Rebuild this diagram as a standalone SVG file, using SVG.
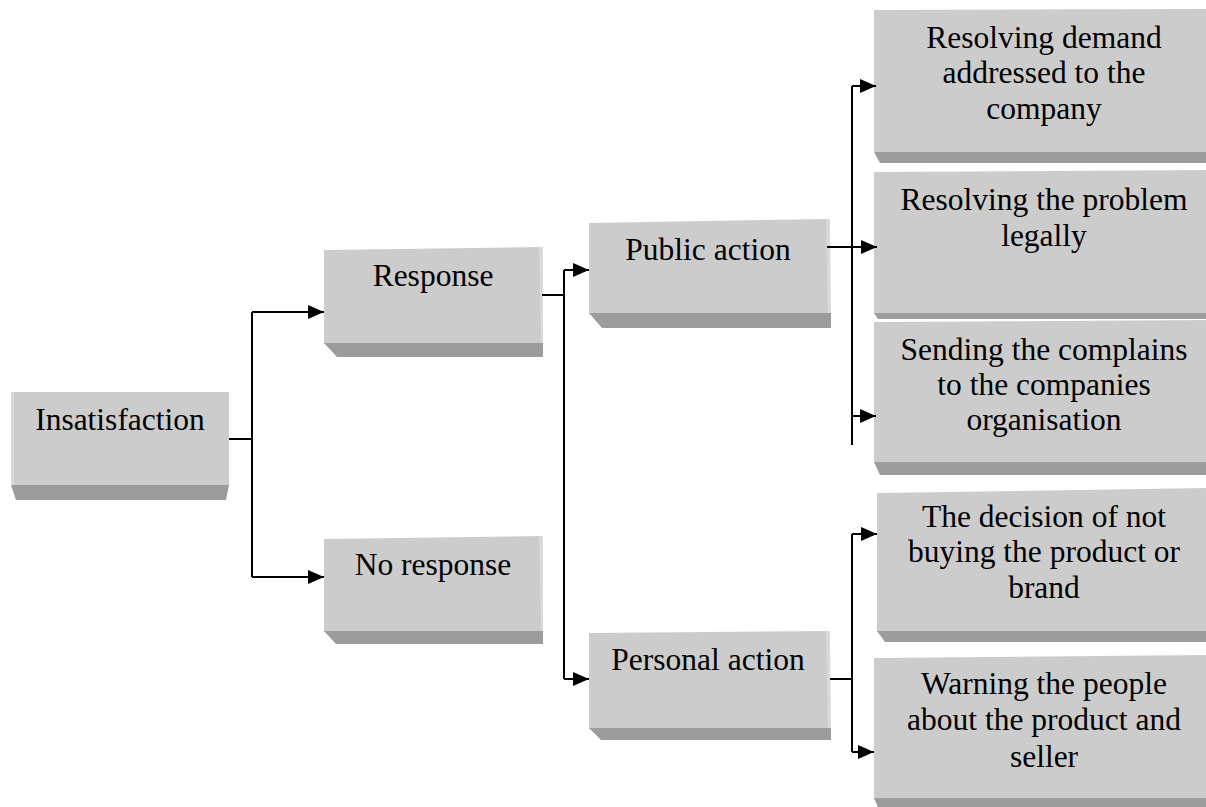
<svg xmlns="http://www.w3.org/2000/svg" width="1206" height="807" viewBox="0 0 1206 807">
<style>
.face{fill:#cccccc;}
.edge{fill:#dadada;}
.bevel{fill:#9c9c9c;}
.lbl{font-family:"Liberation Serif","Times New Roman",serif;font-size:31.5px;fill:#000;text-anchor:middle;}
.conn{fill:none;stroke:#000;stroke-width:2;}
</style>
<defs>
<marker id="arr" markerUnits="userSpaceOnUse" markerWidth="16" markerHeight="14" refX="16" refY="7" orient="auto">
<path d="M0,0 L16,7 L0,14 Z" fill="#000"/>
</marker>
</defs>
<rect width="1206" height="807" fill="#fff"/>

<g id="insatisfaction">
<polygon class="face" points="11,392 229,392 229,485 11,485"/>
<polygon class="edge" points="11,392 14,392 14,485 11,485"/>
<polygon class="bevel" points="11,485 229,485 226,500 16,500"/>
<text class="lbl" x="120" y="430">Insatisfaction</text>
</g>

<g id="response">
<polygon class="face" points="324,250 541,247 543,343 324,344"/>
<polygon class="edge" points="539,247 543,247 543,343 541,343"/>
<polygon class="bevel" points="324,343 543,343 543,357 337,357"/>
<text class="lbl" x="433" y="286">Response</text>
</g>

<g id="no-response">
<polygon class="face" points="324,539 541,536 543,631 324,632"/>
<polygon class="edge" points="539,536 543,536 543,631 541,631"/>
<polygon class="bevel" points="324,631 543,631 543,644 336,644"/>
<text class="lbl" x="433" y="575">No response</text>
</g>

<g id="public-action">
<polygon class="face" points="589,223 828,219 830,313 589,314"/>
<polygon class="edge" points="826,219 830,219 831,313 828,313"/>
<polygon class="bevel" points="589,313 831,313 831,328 602,328"/>
<text class="lbl" x="708" y="260">Public action</text>
</g>

<g id="personal-action">
<polygon class="face" points="589,633 828,631 830,728 589,729"/>
<polygon class="edge" points="826,631 830,631 831,728 828,728"/>
<polygon class="bevel" points="589,728 831,728 831,740 601,740"/>
<text class="lbl" x="708" y="670">Personal action</text>
</g>

<g id="resolving-demand">
<polygon class="face" points="874,10 1210,9 1210,152 874,152"/>
<polygon class="bevel" points="874,152 1210,152 1210,163 880,163"/>
<text class="lbl" x="1044" y="48">Resolving demand</text>
<text class="lbl" x="1044" y="83">addressed to the</text>
<text class="lbl" x="1044" y="119">company</text>
</g>

<g id="resolving-legally">
<polygon class="face" points="874,172 1210,170 1210,313 874,314"/>
<polygon class="bevel" points="874,313 1210,313 1210,319 878,319"/>
<text class="lbl" x="1044" y="210">Resolving the problem</text>
<text class="lbl" x="1044" y="246">legally</text>
</g>

<g id="sending-complains">
<polygon class="face" points="874,322 1210,320 1210,462 874,463"/>
<polygon class="bevel" points="874,462 1210,462 1210,475 880,475"/>
<text class="lbl" x="1044" y="360">Sending the complains</text>
<text class="lbl" x="1044" y="395">to the companies</text>
<text class="lbl" x="1044" y="430">organisation</text>
</g>

<g id="decision-not-buying">
<polygon class="face" points="877,493 1210,488 1210,631 877,632"/>
<polygon class="bevel" points="877,631 1210,631 1210,642 885,642"/>
<text class="lbl" x="1044" y="527">The decision of not</text>
<text class="lbl" x="1044" y="562">buying the product or</text>
<text class="lbl" x="1044" y="598">brand</text>
</g>

<g id="warning-people">
<polygon class="face" points="874,658 1210,655 1210,798 874,799"/>
<polygon class="bevel" points="874,798 1210,798 1210,812 880,812"/>
<text class="lbl" x="1044" y="694">Warning the people</text>
<text class="lbl" x="1044" y="730">about the product and</text>
<text class="lbl" x="1044" y="767">seller</text>
</g>

<g id="connectors">
<path class="conn" d="M229,439 H252 M252,312 V577"/>
<path class="conn" d="M252,312 H324" marker-end="url(#arr)"/>
<path class="conn" d="M252,577 H324" marker-end="url(#arr)"/>
<path class="conn" d="M542,295 H564 M564,270 V679"/>
<path class="conn" d="M564,270 H589" marker-end="url(#arr)"/>
<path class="conn" d="M564,679 H589" marker-end="url(#arr)"/>
<path class="conn" d="M852,86 V445"/>
<path class="conn" d="M827,247 H877" marker-end="url(#arr)"/>
<path class="conn" d="M852,86 H876" marker-end="url(#arr)"/>
<path class="conn" d="M852,416 H876" marker-end="url(#arr)"/>
<path class="conn" d="M830,679 H852 M852,534 V752"/>
<path class="conn" d="M852,534 H877" marker-end="url(#arr)"/>
<path class="conn" d="M852,752 H874" marker-end="url(#arr)"/>
</g>
</svg>
